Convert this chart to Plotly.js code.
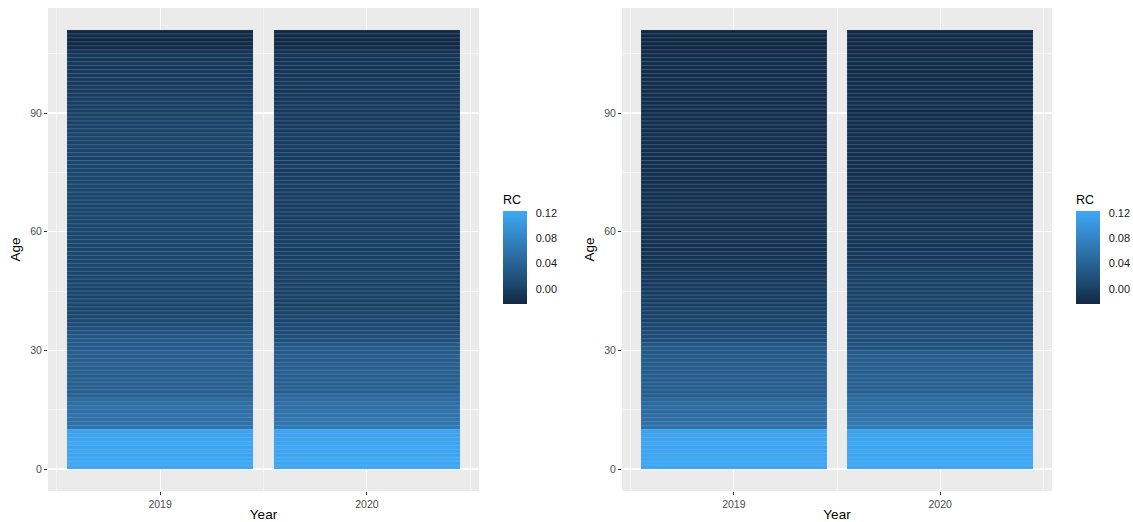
<!DOCTYPE html>
<html>
<head>
<meta charset="utf-8">
<script src="https://cdn.plot.ly/plotly-3.0.1.min.js"></script>
<style>html,body{margin:0;padding:0;background:#fff;}#chart{width:1133px;height:522px;}</style>
</head>
<body>
<div id="chart"></div>
<script>
// ---- data ----
var years = [2019, 2020];
var ages = [];
for (var a = 0; a <= 110; a++) ages.push(a);

var leftRC2019 = [
 0.121,0.123,0.122,0.120,0.121,0.119,0.122,0.120,0.118,0.117,
 0.060,0.058,0.055,0.057,0.054,0.056,0.052,0.050,0.036,0.035,
 0.037,0.034,0.036,0.033,0.035,0.034,0.036,0.033,0.032,0.034,
 0.031,0.030,0.029,0.027,0.022,0.018,0.012,0.010,0.008,0.006,
 0.005,0.004,0.006,0.005,0.006,0.004,0.007,0.005,0.006,0.004,
 0.005,0.006,0.004,0.005,0.007,0.005,0.004,0.006,0.005,0.004,
 0.006,0.005,0.004,0.006,0.005,0.004,0.005,0.006,0.004,0.005,
 0.004,0.005,0.006,0.004,0.005,0.003,0.004,0.005,0.003,0.004,
 0.003,0.004,0.002,0.003,0.004,0.002,0.003,0.001,0.002,0.000,
 -0.001,-0.003,-0.002,-0.004,-0.003,-0.005,-0.004,-0.006,-0.005,-0.007,
 -0.006,-0.008,-0.007,-0.009,-0.008,-0.010,-0.021,-0.023,-0.024,-0.022,
 -0.023];
var leftRC2020 = [
 0.122,0.121,0.123,0.119,0.120,0.121,0.118,0.119,0.117,0.118,
 0.066,0.064,0.062,0.060,0.058,0.054,0.052,0.050,0.046,0.036,
 0.037,0.035,0.036,0.034,0.035,0.033,0.034,0.032,0.033,0.031,
 0.030,0.028,0.020,0.016,0.013,0.011,0.009,0.006,0.004,0.003,
 0.002,0.001,0.000,0.001,0.000,0.002,0.001,-0.001,0.000,0.001,
 -0.001,0.000,0.001,-0.001,0.000,-0.002,-0.001,0.000,-0.002,-0.001,
 0.000,-0.002,-0.001,-0.003,-0.002,-0.001,-0.003,-0.002,-0.001,-0.003,
 -0.002,-0.003,-0.001,-0.002,-0.004,-0.003,-0.002,-0.004,-0.003,-0.002,
 -0.004,-0.003,-0.005,-0.004,-0.003,-0.005,-0.004,-0.006,-0.005,-0.004,
 -0.006,-0.007,-0.006,-0.008,-0.007,-0.009,-0.008,-0.007,-0.009,-0.010,
 -0.009,-0.011,-0.010,-0.012,-0.011,-0.012,-0.022,-0.024,-0.023,-0.024,
 -0.022];
var rightRC2019 = [
 0.120,0.122,0.121,0.119,0.120,0.118,0.121,0.119,0.117,0.116,
 0.058,0.056,0.054,0.052,0.050,0.049,0.047,0.045,0.034,0.035,
 0.033,0.034,0.032,0.033,0.031,0.032,0.030,0.031,0.029,0.028,
 0.029,0.027,0.016,0.013,0.011,0.009,0.007,0.003,0.002,0.001,
 0.000,-0.001,-0.002,-0.001,-0.003,-0.004,-0.005,-0.006,-0.008,-0.010,
 -0.012,-0.013,-0.012,-0.014,-0.013,-0.015,-0.014,-0.013,-0.015,-0.014,
 -0.015,-0.014,-0.016,-0.015,-0.014,-0.016,-0.015,-0.016,-0.014,-0.015,
 -0.016,-0.015,-0.017,-0.016,-0.015,-0.017,-0.016,-0.015,-0.017,-0.016,
 -0.017,-0.016,-0.018,-0.017,-0.016,-0.018,-0.017,-0.016,-0.018,-0.017,
 -0.018,-0.017,-0.018,-0.019,-0.017,-0.018,-0.019,-0.018,-0.017,-0.019,
 -0.018,-0.019,-0.018,-0.019,-0.018,-0.019,-0.023,-0.024,-0.023,-0.024,
 -0.023];
var rightRC2020 = [
 0.121,0.123,0.122,0.120,0.121,0.119,0.122,0.120,0.118,0.117,
 0.068,0.066,0.063,0.060,0.055,0.053,0.051,0.049,0.046,0.036,
 0.035,0.036,0.034,0.035,0.033,0.034,0.032,0.031,0.032,0.030,
 0.020,0.018,0.016,0.015,0.013,0.012,0.010,0.009,0.006,0.005,
 0.004,0.005,0.003,0.002,0.003,0.001,0.000,0.001,-0.001,-0.002,
 -0.002,-0.006,-0.007,-0.008,-0.007,-0.009,-0.010,-0.009,-0.011,-0.010,
 -0.011,-0.012,-0.011,-0.012,-0.014,-0.015,-0.014,-0.016,-0.015,-0.016,
 -0.015,-0.017,-0.016,-0.015,-0.017,-0.016,-0.018,-0.017,-0.016,-0.018,
 -0.017,-0.018,-0.016,-0.017,-0.018,-0.017,-0.019,-0.018,-0.017,-0.018,
 -0.019,-0.018,-0.017,-0.019,-0.018,-0.019,-0.018,-0.019,-0.020,-0.018,
 -0.019,-0.020,-0.019,-0.018,-0.020,-0.019,-0.023,-0.024,-0.022,-0.024,
 -0.023];

var cbTicks = [0, 0.04, 0.08, 0.12];

// ---- build ----
var allVals = leftRC2019.concat(leftRC2020, rightRC2019, rightRC2020);
var cmin = Math.min.apply(null, allVals);
var cmax = Math.max.apply(null, allVals);
var FONT = 'Liberation Sans, Arial, Helvetica, sans-serif';
var scale = [[0, '#112842'], [0.2, '#1B466D'], [0.5, '#2C6BA0'], [1, '#3DA9F7']];

function columns(v2019, v2020) {
  var xs = [], bases = [], hs = [], cols = [];
  [[years[0], v2019], [years[1], v2020]].forEach(function (p) {
    for (var i = 0; i < ages.length; i++) {
      xs.push(p[0]); bases.push(ages[i]); hs.push(1); cols.push(p[1][i]);
    }
  });
  return {xs: xs, bases: bases, hs: hs, cols: cols};
}

function panelTraces(v2019, v2020, xa, ya, cbx) {
  var c = columns(v2019, v2020);
  var fill = {
    type: 'bar', x: c.xs, y: c.hs, base: c.bases, width: 0.9,
    xaxis: xa, yaxis: ya, hoverinfo: 'skip',
    marker: {
      color: c.cols, colorscale: scale, cmin: cmin, cmax: cmax, showscale: true,
      line: {width: 0},
      colorbar: {
        x: cbx, xref: 'paper', xanchor: 'left',
        y: 1 - 248 / 522, yanchor: 'middle',
        len: 112, lenmode: 'pixels', thickness: 24, thicknessmode: 'pixels',
        xpad: 0, ypad: 0, outlinewidth: 0,
        tickvals: cbTicks, tickformat: '.2f',
        ticks: 'outside', ticklen: 7, tickcolor: 'rgba(0,0,0,0)', tickwidth: 1,
        tickfont: {family: FONT, size: 11, color: '#1a1a1a'},
        title: {text: 'RC', side: 'top', font: {family: FONT, size: 12.5, color: '#000'}}
      }
    }
  };
  var outline = {
    type: 'bar', x: c.xs, y: c.hs, base: c.bases, width: 0.9,
    xaxis: xa, yaxis: ya, hoverinfo: 'skip',
    marker: {color: 'rgba(0,0,0,0)', line: {color: 'rgba(170,190,215,0.3)', width: 0.5}}
  };
  return [fill, outline];
}

var data = panelTraces(leftRC2019, leftRC2020, 'x', 'y', 503 / 1133)
  .concat(panelTraces(rightRC2019, rightRC2020, 'x2', 'y2', 1076 / 1133));

function xaxisDef(dom, anchor) {
  return {
    domain: dom, anchor: anchor, range: [2018.458, 2020.542],
    tickvals: years, ticktext: years.map(String),
    ticks: 'outside', ticklen: 3, tickcolor: '#333333', tickwidth: 1,
    tickfont: {family: FONT, size: 10.5, color: '#4d4d4d'},
    showgrid: true, gridcolor: '#ffffff', gridwidth: 1.1, zeroline: false, showline: false,
    minor: {tickvals: [2018.5, 2019.5, 2020.5], showgrid: true, gridcolor: '#ffffff', gridwidth: 0.5, ticks: ''},
    title: {text: 'Year', standoff: 2, font: {family: FONT, size: 13.5, color: '#000'}},
    fixedrange: true
  };
}
function yaxisDef(anchor) {
  return {
    domain: [1 - 491 / 522, 1 - 8 / 522], anchor: anchor, range: [-5.55, 116.55],
    tickvals: [0, 30, 60, 90],
    ticks: 'outside', ticklen: 3, tickcolor: '#333333', tickwidth: 1,
    tickfont: {family: FONT, size: 10.5, color: '#4d4d4d'},
    showgrid: true, gridcolor: '#ffffff', gridwidth: 1.1, zeroline: false, showline: false,
    minor: {tickvals: [15, 45, 75, 105], showgrid: true, gridcolor: '#ffffff', gridwidth: 0.5, ticks: ''},
    title: {text: 'Age', standoff: 6, font: {family: FONT, size: 13.5, color: '#000'}},
    fixedrange: true
  };
}

var layout = {
  width: 1133, height: 522,
  margin: {l: 0, r: 0, t: 0, b: 0},
  paper_bgcolor: '#ffffff', plot_bgcolor: '#EBEBEB',
  showlegend: false, barmode: 'overlay', bargap: 0,
  font: {family: FONT},
  xaxis: xaxisDef([48 / 1133, 479 / 1133], 'y'),
  yaxis: yaxisDef('x'),
  xaxis2: xaxisDef([622 / 1133, 1052 / 1133], 'y2'),
  yaxis2: yaxisDef('x2')
};

Plotly.newPlot('chart', data, layout, {staticPlot: true, displayModeBar: false});
</script>
</body>
</html>
